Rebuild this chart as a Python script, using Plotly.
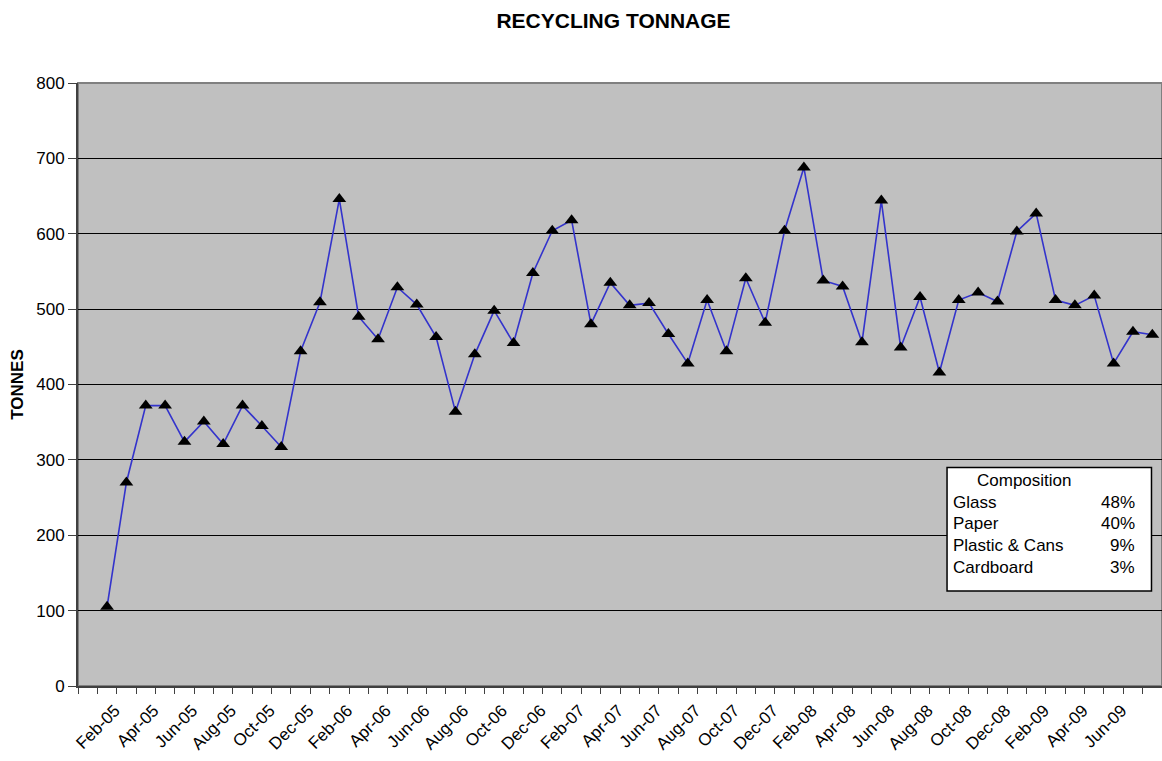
import plotly.graph_objects as go

# axis months (first one is an empty slot, as on the original chart)
AXIS_MONTHS = [
    "Jan-05", "Feb-05", "Mar-05", "Apr-05", "May-05", "Jun-05", "Jul-05", "Aug-05",
    "Sep-05", "Oct-05", "Nov-05", "Dec-05", "Jan-06", "Feb-06", "Mar-06", "Apr-06",
    "May-06", "Jun-06", "Jul-06", "Aug-06", "Sep-06", "Oct-06", "Nov-06", "Dec-06",
    "Jan-07", "Feb-07", "Mar-07", "Apr-07", "May-07", "Jun-07", "Jul-07", "Aug-07",
    "Sep-07", "Oct-07", "Nov-07", "Dec-07", "Jan-08", "Feb-08", "Mar-08", "Apr-08",
    "May-08", "Jun-08", "Jul-08", "Aug-08", "Sep-08", "Oct-08", "Nov-08", "Dec-08",
    "Jan-09", "Feb-09", "Mar-09", "Apr-09", "May-09", "Jun-09", "Jul-09", "Aug-09",
]
MONTHS = AXIS_MONTHS[1:]
TONNES = [
    105, 270, 372, 372, 324, 351, 321, 372, 345, 317, 444,
    509, 646, 490, 460, 529, 506, 463, 364, 440, 498, 455, 548,
    604, 618, 480, 535, 505, 508, 467, 428, 512, 444, 541, 482,
    604, 688, 538, 530, 456, 644, 449, 516, 416, 512, 522, 510,
    603, 627, 512, 505, 518, 428, 470, 466,
]
TICK_LABELS = [
    "Feb-05", "Apr-05", "Jun-05", "Aug-05", "Oct-05", "Dec-05",
    "Feb-06", "Apr-06", "Jun-06", "Aug-06", "Oct-06", "Dec-06",
    "Feb-07", "Apr-07", "Jun-07", "Aug-07", "Oct-07", "Dec-07",
    "Feb-08", "Apr-08", "Jun-08", "Aug-08", "Oct-08", "Dec-08",
    "Feb-09", "Apr-09", "Jun-09",
]
Y_TICKS = [0, 100, 200, 300, 400, 500, 600, 700, 800]

COMPOSITION = ["Glass", "Paper", "Plastic & Cans", "Cardboard"]
SHARE = ["48%", "40%", "9%", "3%"]

FONT = "Arial, Liberation Sans, sans-serif"

x_pos = [AXIS_MONTHS.index(m) for m in MONTHS]
tick_pos = [AXIS_MONTHS.index(m) for m in TICK_LABELS]

fig = go.Figure()
fig.add_trace(
    go.Scatter(
        x=x_pos,
        y=TONNES,
        mode="lines+markers",
        line=dict(color="#3333CC", width=1.6),
        marker=dict(symbol="triangle-up", size=12, color="black"),
        showlegend=False,
        cliponaxis=False,
    )
)

fig.update_layout(
    width=1162,
    height=761,
    margin=dict(l=78, r=0, t=83, b=75, autoexpand=False),
    paper_bgcolor="white",
    plot_bgcolor="#C0C0C0",
    font=dict(family=FONT, size=17, color="black"),
    title=dict(
        text="<b>RECYCLING TONNAGE</b>",
        font=dict(family=FONT, size=21, color="black"),
        x=0.494,
        xref="paper",
        xanchor="center",
        y=1 - 21 / 761,
        yanchor="middle",
    ),
)

fig.update_xaxes(
    automargin=False,
    range=[-0.5, len(AXIS_MONTHS) - 0.5],
    tickmode="array",
    tickvals=tick_pos,
    ticktext=TICK_LABELS,
    tickangle=-45,
    ticks="",
    ticklabelshift=8,
    ticklabelstandoff=6,
    showgrid=False,
    zeroline=False,
    showline=True,
    linecolor="#404040",
    linewidth=2,
    tickfont=dict(family=FONT, size=17),
    minor=dict(ticks="outside", tick0=-0.5, dtick=1, ticklen=6, tickcolor="#404040", tickwidth=1, showgrid=False),
)

fig.update_yaxes(
    automargin=False,
    range=[0, 800],
    tickmode="array",
    tickvals=Y_TICKS,
    ticks="outside",
    ticklen=8,
    tickcolor="#404040",
    showgrid=True,
    gridcolor="black",
    gridwidth=1,
    zeroline=False,
    showline=True,
    linecolor="#404040",
    linewidth=2,
    tickfont=dict(family=FONT, size=17),
    title=dict(text="<b>TONNES</b>", font=dict(family=FONT, size=17), standoff=8),
)

# plot area border (top/right)
fig.add_shape(
    type="rect", xref="paper", yref="paper", x0=0, x1=1, y0=0, y1=1,
    line=dict(color="#808080", width=2), fillcolor="rgba(0,0,0,0)", layer="below",
)

# composition box
fig.add_shape(
    type="rect", xref="paper", yref="paper",
    x0=0.8017, x1=0.9903, y0=0.1575, y1=0.3624,
    line=dict(color="black", width=1.5), fillcolor="white", layer="above",
)
fig.add_annotation(
    text="Composition", xref="paper", yref="paper", x=0.8732, y=0.3405,
    xanchor="center", yanchor="middle", showarrow=False, font=dict(family=FONT, size=17),
)
row_y = [0.3046, 0.2687, 0.2322, 0.1962]
for name, share, yy in zip(COMPOSITION, SHARE, row_y):
    fig.add_annotation(
        text=name, xref="paper", yref="paper", x=0.8054, y=yy,
        xanchor="left", yanchor="middle", showarrow=False, font=dict(family=FONT, size=17),
    )
    fig.add_annotation(
        text=share, xref="paper", yref="paper", x=0.9769, y=yy,
        xanchor="right", yanchor="middle", showarrow=False, font=dict(family=FONT, size=17),
    )

# drop the default 8px body margin so the figure fills the window
fig.write_html(
    "out.html",
    config={"displayModeBar": False},
    post_script="document.body.style.margin = '0';",
)
